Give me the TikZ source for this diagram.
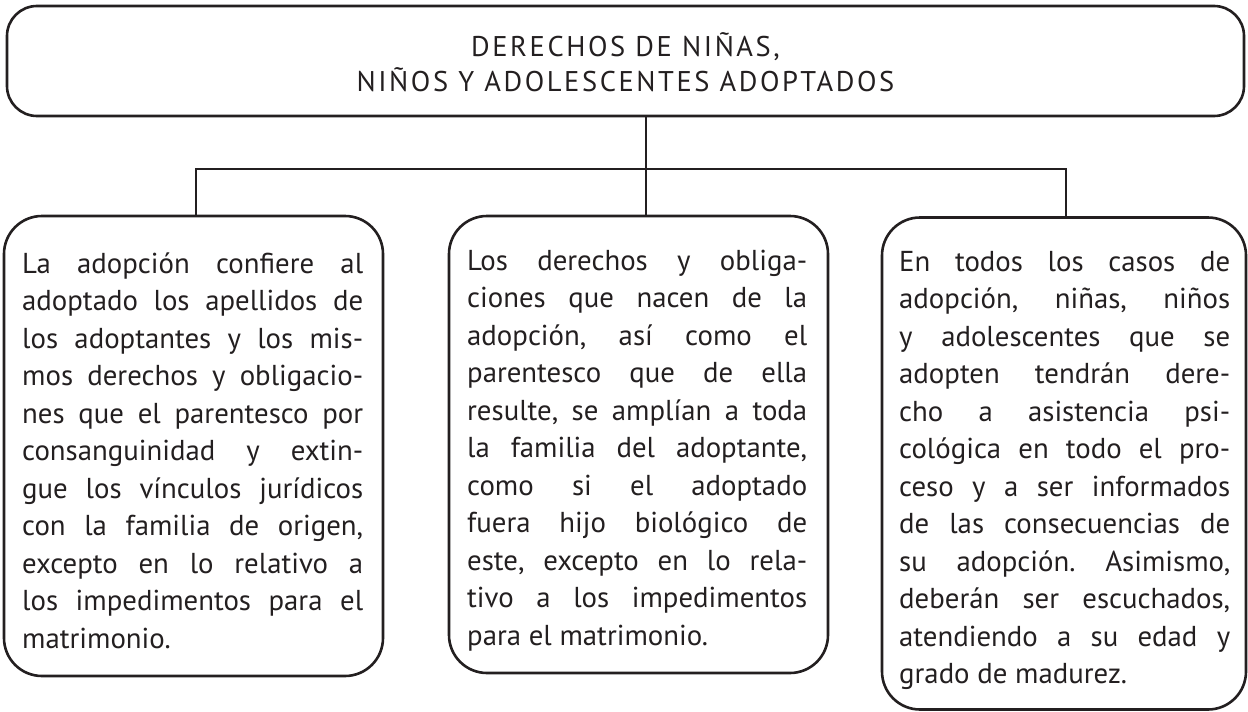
\documentclass[tikz,border=0pt]{standalone}
\usepackage{fontspec}
\setmainfont{PT Sans}
\newfontfamily\titlefont[LetterSpace=9]{PT Sans}
\definecolor{ink}{HTML}{231F20}
\newlength{\jw}
\newcommand{\jline}[1]{\hbox to \jw{#1}\par}
\newcommand{\jsetup}[1]{\frenchspacing\setlength{\jw}{#1}\spaceskip=\fontdimen2\font plus 6em minus 0.12em\relax\xspaceskip=0pt\relax}
\begin{document}
\begin{tikzpicture}[x=1pt,y=-1pt,
  frame/.style={draw=ink, line width=2.6pt},
  boxshape/.style={frame, rounded corners=#1, inner sep=0pt, fill=none},
  body/.style={anchor=north west, inner sep=0pt, text width=#1, align=left, text=ink,
    font=\fontsize{28.8}{37.5}\selectfont},
  conn/.style={draw=ink, line width=2.6pt}]
\useasboundingbox (0,0) rectangle (1248,712);

% boxes
\node[boxshape=30pt, minimum width=1237pt, minimum height=110pt] (top) at (625.5,61) {};
\node[boxshape=38pt, minimum width=379pt, minimum height=460pt] (lbox) at (193.5,446) {};
\node[boxshape=38pt, minimum width=379pt, minimum height=457pt] (mbox) at (638.5,444.5) {};
\node[boxshape=38pt, minimum width=364pt, minimum height=492pt] (rbox) at (1064,463.5) {};

% title
\node[anchor=north, inner sep=0pt, align=center, text=ink,
      font=\titlefont\fontsize{28.5}{34}\selectfont] (title) at (625.5,32.2)
  {\strut DERECHOS DE NIÑAS,\\ NIÑOS Y ADOLESCENTES ADOPTADOS};

% connectors
\coordinate (jl) at (196,169);
\coordinate (jm) at (646,169);
\coordinate (jr) at (1066,169);
\draw[conn] (top.south -| jm) -- (jm |- mbox.north);
\draw[conn] (jl |- lbox.north) -- (jl) -- (jr) -- (jr |- rbox.north);

% texts
\node[body=341pt] (ltext) at (22,246.75) {\jsetup{341pt}%
\jline{\strut La adopción confiere al}%
\jline{adoptado los apellidos de}%
\jline{los adoptantes y los mis-}%
\jline{mos derechos y obligacio-}%
\jline{nes que el parentesco por}%
\jline{consanguinidad y extin-}%
\jline{gue los vínculos jurídicos}%
\jline{con la familia de origen,}%
\jline{excepto en lo relativo a}%
\jline{los impedimentos para el}%
matrimonio.};

\node[body=340pt] (mtext) at (467,243.75) {\jsetup{340pt}%
\jline{\strut Los derechos y obliga-}%
\jline{ciones que nacen de la}%
\jline{adopción, así como el}%
\jline{parentesco que de ella}%
\jline{resulte, se amplían a toda}%
\jline{la familia del adoptante,}%
\jline{como si el adoptado}%
\jline{fuera hijo biológico de}%
\jline{este, excepto en lo rela-}%
\jline{tivo a los impedimentos}%
para el matrimonio.};

\node[body=331pt] (rtext) at (899,244.75) {\jsetup{331pt}%
\jline{\strut En todos los casos de}%
\jline{adopción, niñas, niños}%
\jline{y adolescentes que se}%
\jline{adopten tendrán dere-}%
\jline{cho a asistencia psi-}%
\jline{cológica en todo el pro-}%
\jline{ceso y a ser informados}%
\jline{de las consecuencias de}%
\jline{su adopción. Asimismo,}%
\jline{deberán ser escuchados,}%
\jline{atendiendo a su edad y}%
grado de madurez.};
\end{tikzpicture}
\end{document}
